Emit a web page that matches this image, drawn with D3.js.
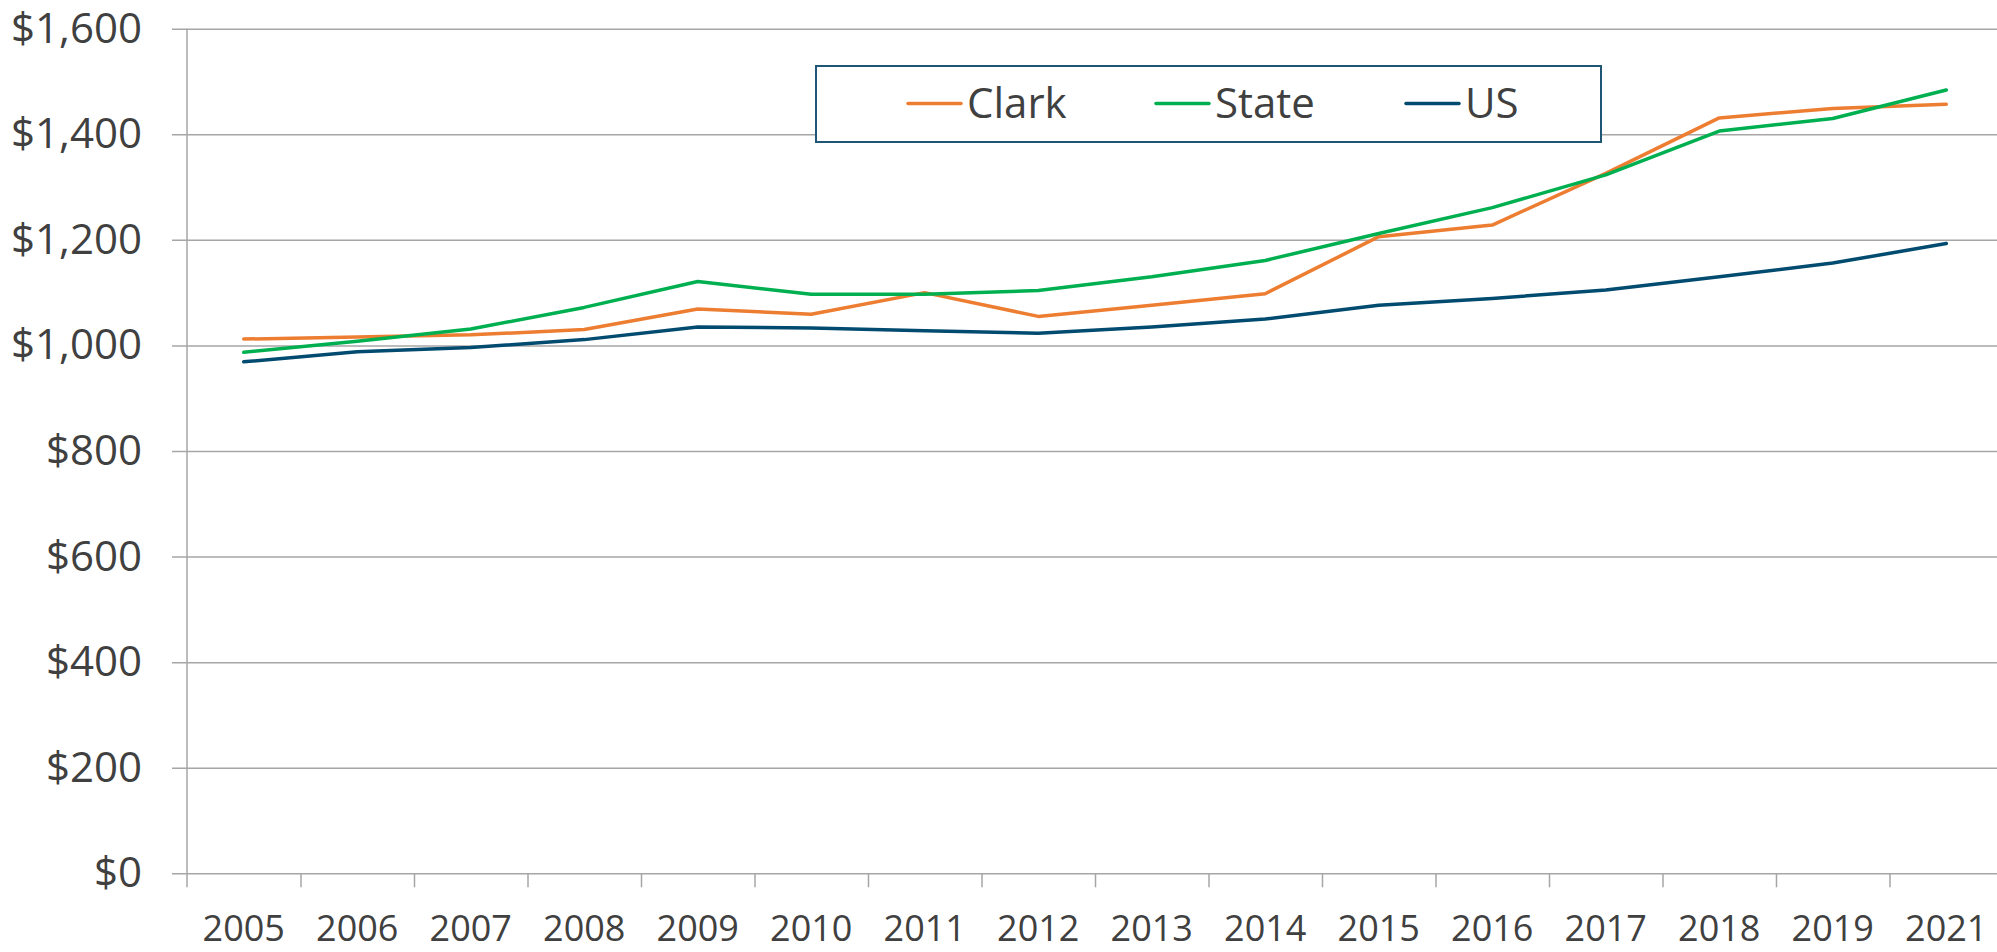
<!DOCTYPE html>
<html>
<head>
<meta charset="utf-8">
<script src="https://cdn.jsdelivr.net/npm/d3@7"></script>
<style>
  body { margin: 0; background: #fff; }
  text { font-family: "Open Sans", sans-serif; fill: #404040; }
</style>
</head>
<body>
<div class="chart"></div>
<script>
var years = ["2005", "2006", "2007", "2008", "2009", "2010", "2011", "2012",
             "2013", "2014", "2015", "2016", "2017", "2018", "2019", "2021"];
var clark = [1012, 1016, 1020, 1030, 1069, 1059, 1100, 1055, 1076, 1098, 1206, 1228, 1326, 1431, 1449, 1457];
var state = [987, 1008, 1031, 1072, 1121, 1097, 1097, 1104, 1130, 1161, 1212, 1261, 1323, 1406, 1430, 1484];
var us = [969, 988, 996, 1011, 1035, 1033, 1028, 1023, 1035, 1050, 1076, 1089, 1105, 1130, 1156, 1193];
var yTicks = [0, 200, 400, 600, 800, 1000, 1200, 1400, 1600];
var seriesNames = ["Clark", "State", "US"];
var seriesColors = ["#ED7D31", "#00B050", "#004B6F"];

var svgWidth = 1997;
var svgHeight = 952;

// plot area edges (the right edge runs past the window, like the original)
var plotLeft = 187, plotRight = 2003, plotTop = 28.7, plotBottom = 873.3;

var svg = d3.select(".chart")
    .append("svg")
    .attr("width", svgWidth)
    .attr("height", svgHeight)
    .style("display", "block");

var xScale = d3.scaleBand()
    .domain(years)
    .range([plotLeft, plotRight]);

// category boundaries for the tick marks
var edgeScale = d3.scaleLinear()
    .domain([0, years.length])
    .range([plotLeft, plotRight]);

var yScale = d3.scaleLinear()
    .domain([0, 1600])
    .range([plotBottom, plotTop]);

// gridlines + y labels
var leftAxis = d3.axisLeft(yScale)
    .tickValues(yTicks)
    .tickSize(-(plotRight - plotLeft))
    .tickPadding(45)
    .tickFormat(d => "$" + d3.format(",")(d));

var yAxisG = svg.append("g")
    .attr("transform", `translate(${plotLeft}, 0)`)
    .call(leftAxis);
yAxisG.select(".domain").remove();
yAxisG.selectAll(".tick line")
    .attr("x1", -15)
    .attr("stroke", "#a6a6a6")
    .attr("stroke-width", 1.5);
yAxisG.selectAll("text")
    .attr("x", -45)
    .attr("font-size", "42px")
    .attr("font-family", "Open Sans")
    .attr("fill", "#404040");

// vertical axis line
svg.append("line")
    .attr("x1", plotLeft).attr("x2", plotLeft)
    .attr("y1", yScale(1600)).attr("y2", yScale(0) + 14)
    .attr("stroke", "#a6a6a6")
    .attr("stroke-width", 1.5);

// ticks between categories
var tickAxis = d3.axisBottom(edgeScale)
    .tickValues(d3.range(1, years.length + 1))
    .tickSize(14)
    .tickFormat("");
var tickG = svg.append("g")
    .attr("transform", `translate(0, ${plotBottom})`)
    .call(tickAxis);
tickG.select(".domain").remove();
tickG.selectAll("line")
    .attr("stroke", "#a6a6a6")
    .attr("stroke-width", 1.5);

// x labels
var bottomAxis = d3.axisBottom(xScale).tickSize(0);
var xAxisG = svg.append("g")
    .attr("transform", `translate(0, ${plotBottom})`)
    .call(bottomAxis);
xAxisG.select(".domain").remove();
xAxisG.selectAll("text")
    .attr("dy", null)
    .attr("y", 67.5)
    .attr("font-size", "36px")
    .attr("font-family", "Open Sans")
    .attr("fill", "#404040");

var series = [clark, state, us];

var line = d3.line()
    .x((d, i) => xScale(years[i]) + xScale.bandwidth() / 2)
    .y(d => yScale(d));

series.forEach(function (values, k) {
    svg.append("path")
        .datum(values)
        .attr("d", line)
        .attr("fill", "none")
        .attr("stroke", seriesColors[k])
        .attr("stroke-width", 3.5)
        .attr("stroke-linejoin", "round")
        .attr("stroke-linecap", "round");
});

// legend
var legend = svg.append("g");
legend.append("rect")
    .attr("x", 816)
    .attr("y", 66)
    .attr("width", 785)
    .attr("height", 76)
    .attr("fill", "#fff")
    .attr("stroke", "#1F5675")
    .attr("stroke-width", 2);

var legendX = [908, 1156, 1406];
seriesNames.forEach(function (name, k) {
    legend.append("line")
        .attr("x1", legendX[k]).attr("x2", legendX[k] + 53)
        .attr("y1", 103.5).attr("y2", 103.5)
        .attr("stroke", seriesColors[k])
        .attr("stroke-width", 3.5)
        .attr("stroke-linecap", "round");
    legend.append("text")
        .attr("x", legendX[k] + 59)
        .attr("y", 118)
        .attr("font-size", "42px")
        .text(name);
});
</script>
</body>
</html>
